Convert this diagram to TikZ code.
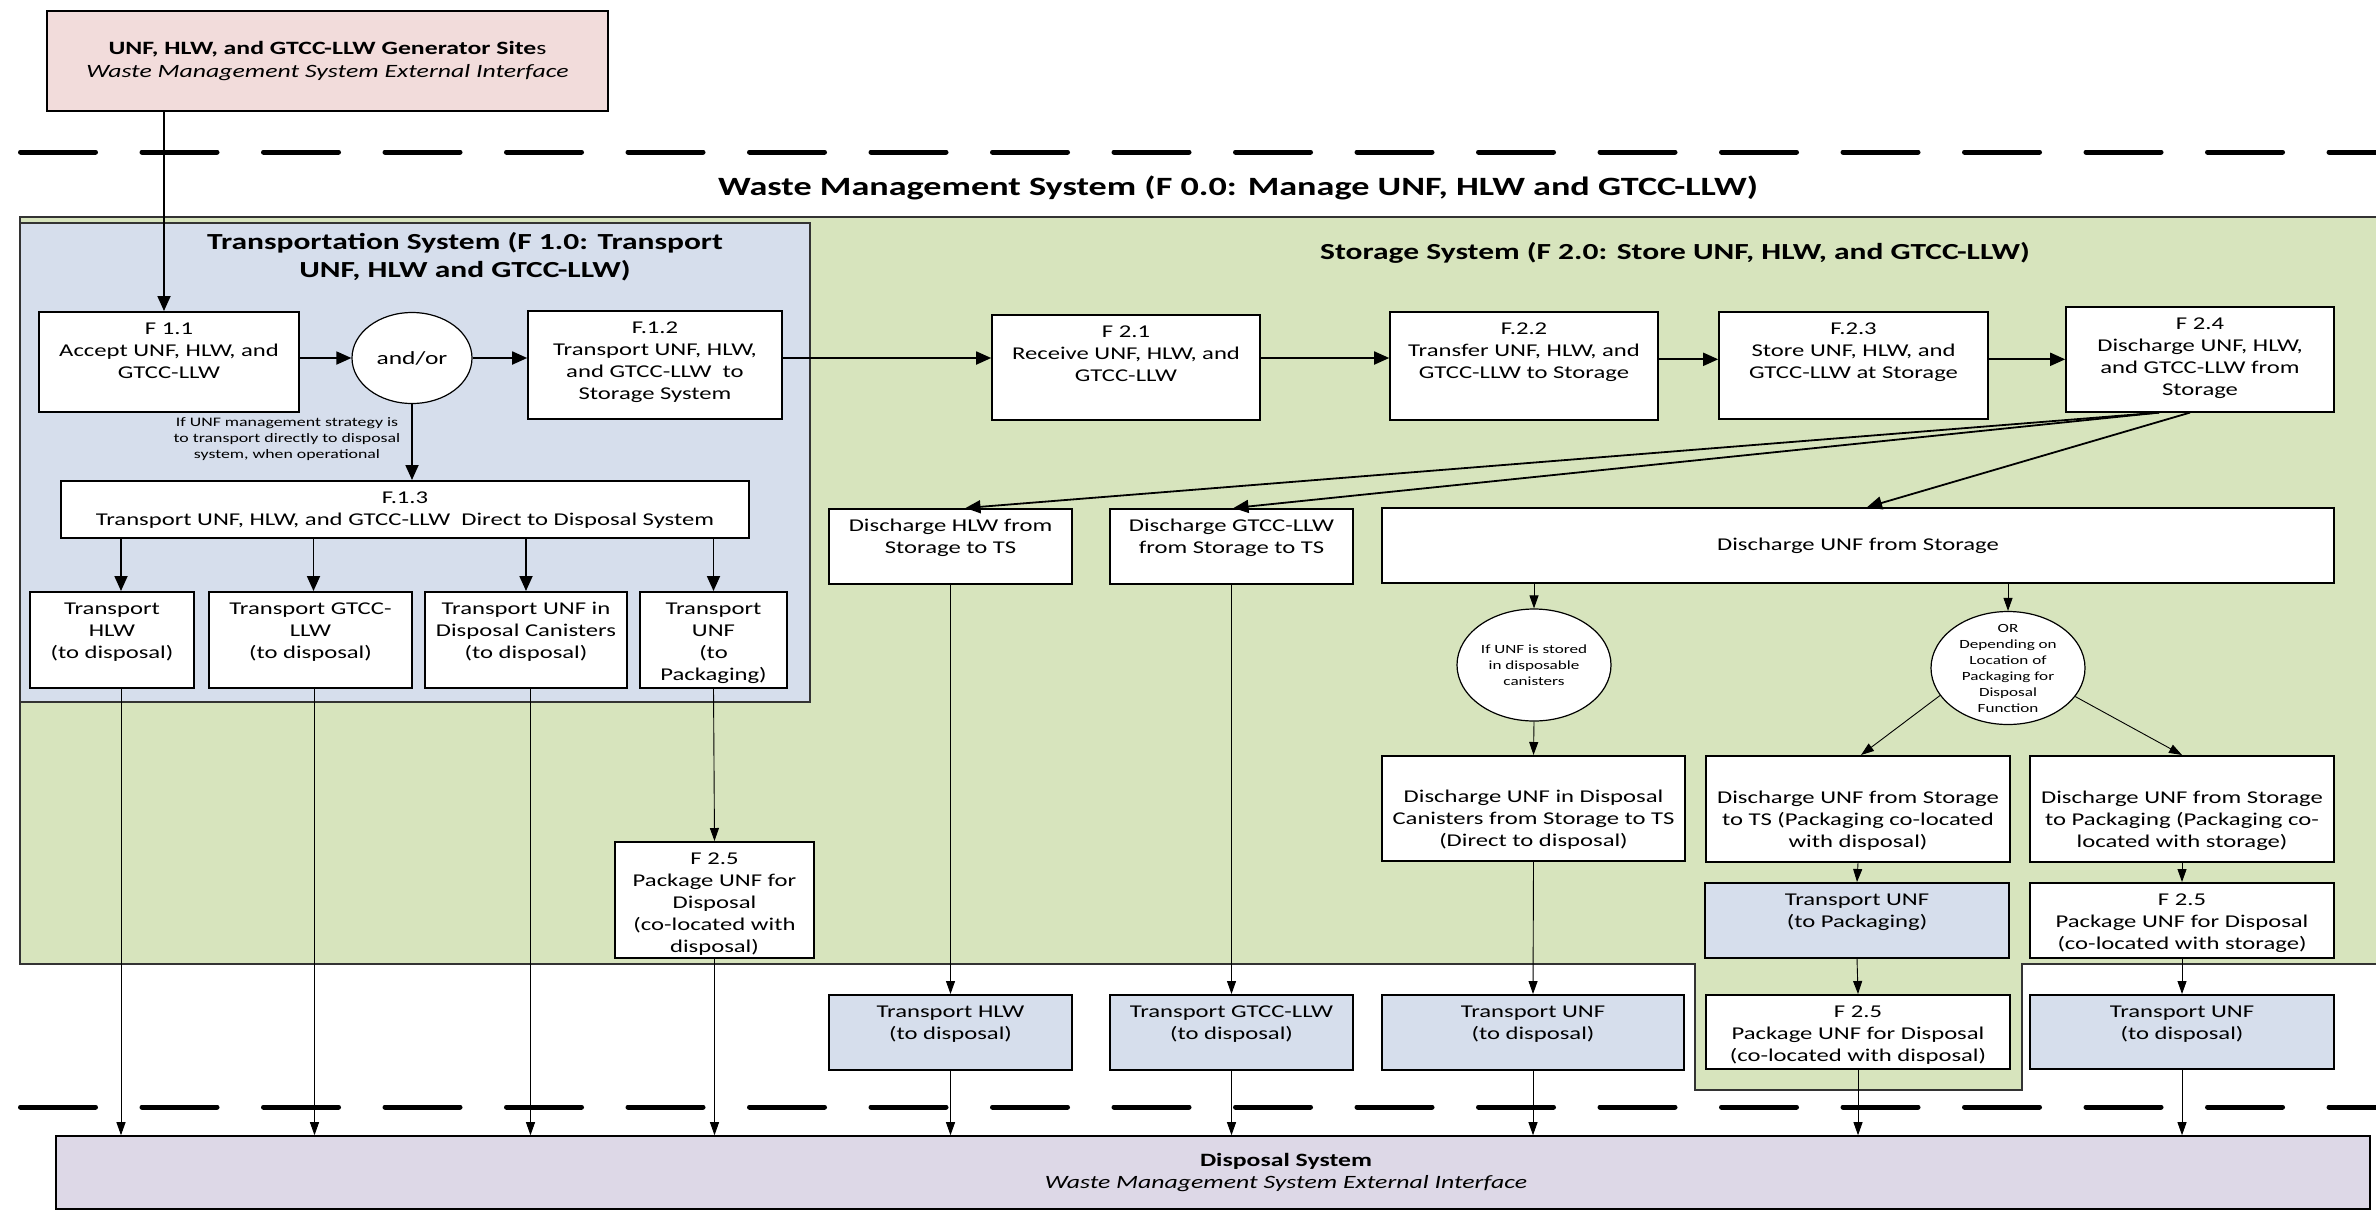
\documentclass[tikz,border=0pt]{standalone}
\usepackage{fontspec}
\setmainfont{Carlito}[FakeStretch=1.37]
\usetikzlibrary{arrows.meta,shapes.geometric}

\definecolor{genpink}{RGB}{242,220,219}
\definecolor{stgreen}{RGB}{215,228,189}
\definecolor{tsblue}{RGB}{214,222,236}
\definecolor{dispurple}{RGB}{221,216,231}

\newcommand{\bx}[4][t]{\parbox[c][#3pt][#1]{#2pt}{\centering
  \ifx t#1\vspace*{7.6pt}\fi\strut#4\strut\par\ifx b#1\vspace*{7.4pt}\fi}}

\tikzset{
  fbox/.style={draw, line width=1.6pt, fill=white, inner sep=0pt, anchor=north, font=\fontsize{18}{22}\selectfont},
  bbox/.style={fbox, fill=tsblue},
  oval/.style={draw, ellipse, line width=1.2pt, fill=white, inner sep=0pt},
  otext/.style={align=center, inner sep=0pt, font=\fontsize{12.5}{16}\selectfont},
  region/.style={draw=black!80, line width=1.6pt},
  thk/.style={line width=1.8pt, -{Triangle[length=15pt,width=13pt]}},
  thn/.style={line width=0.9pt, -{Triangle[length=13pt,width=9pt]}},
  sepline/.style={line width=5pt, line cap=round, dash pattern=on 75pt off 46.5pt},
  ttl/.style={align=center, font=\bfseries\fontsize{23}{28}\selectfont}
}

\begin{document}
\begin{tikzpicture}[x=1pt,y=-1pt]
\useasboundingbox (0,0) rectangle (2376,1211);

% system regions
\draw[region, fill=stgreen] (20,217) -- (2400,217) -- (2400,964) -- (2022,964) -- (2022,1090)
  -- (1695,1090) -- (1695,964) -- (20,964) -- cycle;
\draw[region, fill=tsblue] (20,223) rectangle (810,702);
\draw[sepline] (20.5,152) -- (2400,152);
\draw[sepline] (20.5,1107) -- (2400,1107);

% external interfaces
\node[draw, line width=1.6pt, fill=genpink, minimum width=561pt, minimum height=100pt, align=center,
  font=\fontsize{18.8}{23}\selectfont] (gen) at (327.5,61)
  {\textbf{UNF, HLW, and GTCC-LLW Generator Site}s\\\textit{Waste Management System External Interface}};
\node[draw, line width=1.6pt, fill=dispurple, minimum width=2314pt, minimum height=73pt] (disp) at (1213,1172.5) {};
\node[align=center, font=\fontsize{18.8}{22}\selectfont] (disptext) at (1286,1172)
  {\textbf{Disposal System}\\\textit{Waste Management System External Interface}};

% titles
\node[font=\bfseries\fontsize{26.4}{31}\selectfont] (wmstitle) at (1238,188)
  {Waste Management System (F 0.0: Manage UNF, HLW and GTCC-LLW)};
\node[ttl] (tstitle) at (465,257) {Transportation System (F 1.0: Transport\\UNF, HLW and GTCC-LLW)};
\node[ttl] (sstitle) at (1675,253) {Storage System (F 2.0: Store UNF, HLW, and GTCC-LLW)};

% transportation system
\node[fbox] (f11) at (169,311) {\bx{260}{100}{F 1.1\\Accept UNF, HLW, and\\GTCC-LLW}};
\node[oval, minimum width=120pt, minimum height=91pt, font=\fontsize{18.6}{22}\selectfont] (andor) at (412,358) {and/or};
\node[fbox] (f12) at (655,310) {\bx{254}{108}{F.1.2\\Transport UNF, HLW,\\and GTCC-LLW\ \ to\\Storage System}};
\node[align=center, font=\fontsize{13}{16}\selectfont] (ifunf) at (287,439)
  {If UNF management strategy is\\to transport directly to disposal\\system, when operational};
\node[fbox] (f13) at (405,480) {\bx{688}{57}{F.1.3\\Transport UNF, HLW, and GTCC-LLW\ \ Direct to Disposal System}};
\node[fbox] (t1) at (112,591) {\bx{164}{96}{Transport\\HLW\\(to disposal)}};
\node[fbox] (t2) at (310.5,591) {\bx{203}{96}{Transport GTCC-\\LLW\\(to disposal)}};
\node[fbox] (t3) at (526,591) {\bx{202}{96}{Transport UNF in\\Disposal Canisters\\(to disposal)}};
\node[fbox] (t4) at (713.5,591) {\bx{147}{96}{Transport\\UNF\\(to\\Packaging)}};
\node[fbox] (f25a) at (714.5,841) {\bx{199}{116}{F 2.5\\Package UNF for\\Disposal\\(co-located with\\disposal)}};

% storage system
\node[fbox] (f21) at (1126,314) {\bx{268}{105}{F 2.1\\Receive UNF, HLW, and\\GTCC-LLW}};
\node[fbox] (f22) at (1524,311) {\bx{268}{108}{F.2.2\\Transfer UNF, HLW, and\\GTCC-LLW to Storage}};
\node[fbox] (f23) at (1853.5,311) {\bx{269}{107}{F.2.3\\Store UNF, HLW, and\\GTCC-LLW at Storage}};
\node[fbox] (f24) at (2200,306) {\bx{268}{105}{F 2.4\\Discharge UNF, HLW,\\and GTCC-LLW from\\Storage}};
\node[fbox] (dh) at (950.5,508) {\bx{243}{75}{Discharge HLW from\\Storage to TS}};
\node[fbox] (dg) at (1231.5,508) {\bx{243}{75}{Discharge GTCC-LLW\\from Storage to TS}};
\node[fbox, anchor=center, minimum width=952pt, minimum height=75pt] (du) at (1858,545.5) {Discharge UNF from Storage};
\node[oval, minimum width=154pt, minimum height=112pt] (e1) at (1534,665) {};
\node[otext] (e1text) at (e1) {If UNF is stored\\in disposable\\canisters};
\node[oval, minimum width=154pt, minimum height=113pt] (e2) at (2008,668) {};
\node[otext] (e2text) at (e2) {OR\\Depending on\\Location of\\Packaging for\\Disposal\\Function};
\node[fbox] (dc) at (1533.5,755) {\bx[b]{303}{105}{Discharge UNF in Disposal\\Canisters from Storage to TS\\(Direct to disposal)}};
\node[fbox] (dt) at (1858,755) {\bx[b]{304}{106}{Discharge UNF from Storage\\to TS (Packaging co-located\\with disposal)}};
\node[fbox] (dp) at (2182,755) {\bx[b]{304}{106}{Discharge UNF from Storage\\to Packaging (Packaging co-\\located with storage)}};
\node[bbox] (tp) at (1857,882) {\bx{304}{75}{Transport UNF\\(to Packaging)}};
\node[fbox] (f25c) at (2182,882) {\bx{304}{75}{F 2.5\\Package UNF for Disposal\\(co-located with storage)}};
\node[fbox] (f25b) at (1858,994) {\bx{304}{74}{F 2.5\\Package UNF for Disposal\\(co-located with disposal)}};
\node[bbox] (th) at (950.5,994) {\bx{243}{75}{Transport HLW\\(to disposal)}};
\node[bbox] (tg) at (1231.5,994) {\bx{243}{75}{Transport GTCC-LLW\\(to disposal)}};
\node[bbox] (tu) at (1533,994) {\bx{302}{75}{Transport UNF\\(to disposal)}};
\node[bbox] (td) at (2182,994) {\bx{304}{74}{Transport UNF\\(to disposal)}};

% flows
\draw[thk] ([xshift=-5pt]f11.north |- gen.south) -- ([xshift=-5pt]f11.north);
\draw[thk] (f11.east |- andor) -- (andor.west);
\draw[thk] (andor.east) -- (andor.east -| f12.west);
\draw[thk] (andor.south) -- (andor.south |- f13.north);
\draw[thk] ([xshift=9pt]t1.north |- f13.south) -- ([xshift=9pt]t1.north);
\draw[thk] ([xshift=3pt]t2.north |- f13.south) -- ([xshift=3pt]t2.north);
\draw[thk] (t3.north |- f13.south) -- (t3.north);
\draw[thk] (t4.north |- f13.south) -- (t4.north);
\draw[thn] ([xshift=9pt]t1.south) -- ([xshift=9pt]t1.south |- disp.north);
\draw[thn] ([xshift=4pt]t2.south) -- ([xshift=4pt]t2.south |- disp.north);
\draw[thn] ([xshift=4.5pt]t3.south) -- ([xshift=4.5pt]t3.south |- disp.north);
\draw[thn] (t4.south) -- (f25a.north);
\draw[thn] (f25a.south) -- (f25a.south |- disp.north);

\draw[thk] (f12.east |- andor) -- (andor -| f21.west);
\draw[thk] (f21.east |- andor) -- (andor -| f22.west);
\draw[thk] (f22.east |- f24) -- (f24 -| f23.west);
\draw[thk] (f23.east |- f24) -- (f24.west);
\draw[thk] ([xshift=-41pt]f24.south) -- ([xshift=15pt]dh.north);
\draw[thk] ([xshift=-41pt]f24.south) -- ([xshift=2pt]dg.north);
\draw[thk] ([xshift=-10pt]f24.south) -- ([xshift=9pt]du.north);

\draw[thn] (e1.north |- du.south) -- (e1.north);
\draw[thn] (e2.north |- du.south) -- (e2.north);
\draw[thn] (e1.south) -- (dc.north);
\draw[thn] (e2.202) -- ([xshift=3pt]dt.north);
\draw[thn] (e2.337) -- (dp.north);
\draw[thn] (dt.south) -- (tp.north);
\draw[thn] (tp.south) -- (f25b.north);
\draw[thn] (f25b.south) -- (f25b.south |- disp.north);
\draw[thn] (dp.south) -- (f25c.north);
\draw[thn] (f25c.south) -- (td.north);
\draw[thn] (td.south) -- (td.south |- disp.north);
\draw[thn] (dc.south) -- (tu.north);
\draw[thn] (tu.south) -- (tu.south |- disp.north);
\draw[thn] (dh.south) -- (th.north);
\draw[thn] (th.south) -- (th.south |- disp.north);
\draw[thn] (dg.south) -- (tg.north);
\draw[thn] (tg.south) -- (tg.south |- disp.north);
\end{tikzpicture}
\end{document}
